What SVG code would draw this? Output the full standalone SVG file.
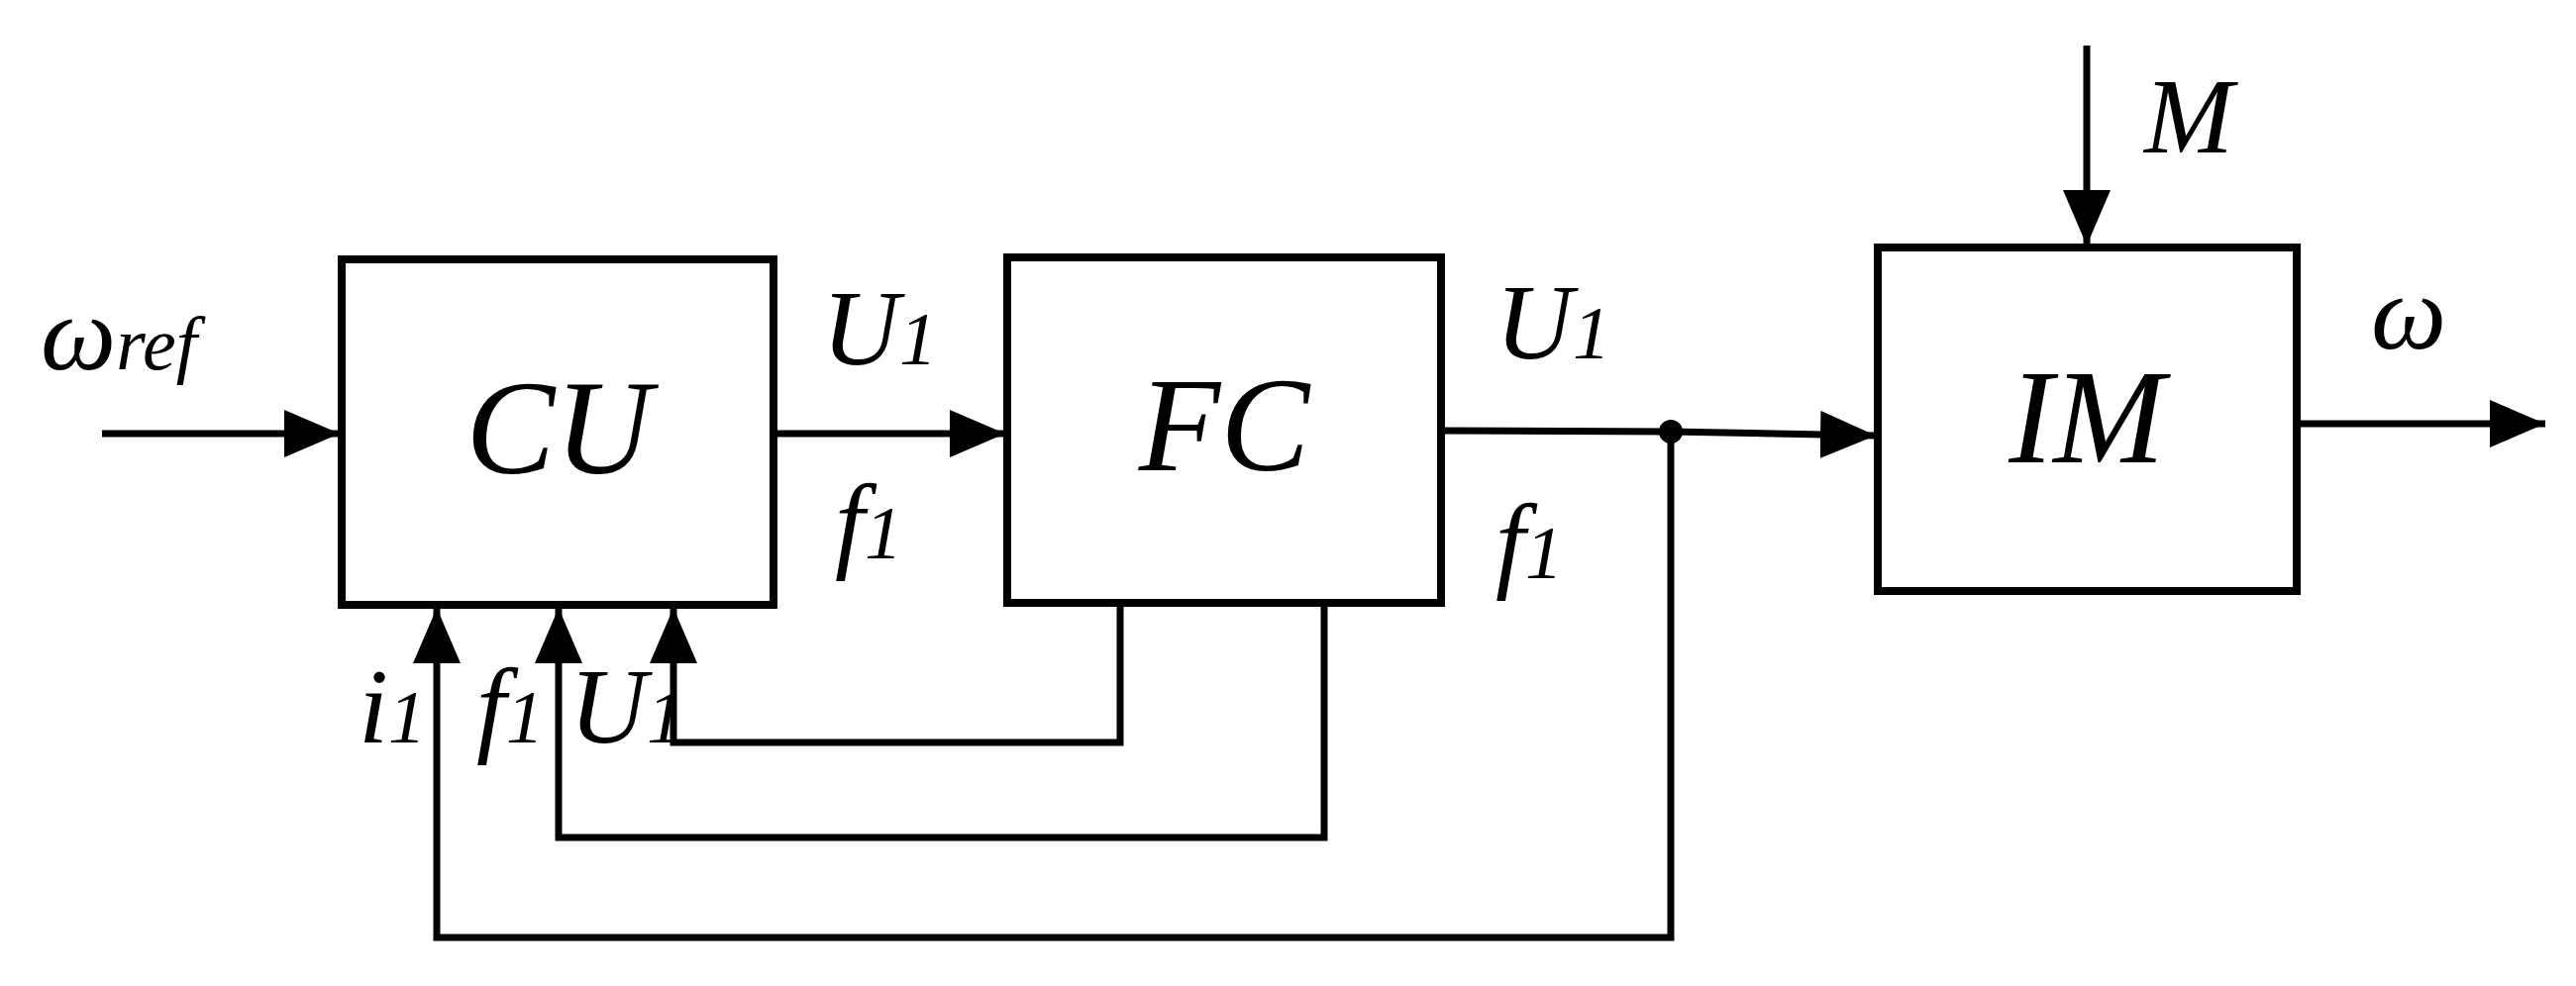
<svg xmlns="http://www.w3.org/2000/svg" width="2601" height="996" viewBox="0 0 2601 996">
<defs>
<marker id="ah" markerUnits="userSpaceOnUse" markerWidth="60" markerHeight="50" refX="56" refY="24" orient="auto"><path d="M0,0 L56,24 L0,48 Z" fill="#000"/></marker>
</defs>
<style>
.b{fill:#fff;stroke:#000;stroke-width:8}
.c{fill:none;stroke:#000;stroke-width:7}
.a{marker-end:url(#ah)}
text{font-family:"Liberation Serif","Times New Roman",serif;font-style:italic;font-weight:normal;fill:#000}
.big{font-size:135px}
.lbl{font-size:108px}
.s{font-size:76px}
</style>
<rect width="2601" height="996" fill="#fff"/>
<g id="connectors">
<line class="c a" x1="103" y1="438" x2="343" y2="438"/>
<line class="c a" x1="781" y1="438" x2="1015" y2="438"/>
<polyline class="c a" points="1455,435 1687,436 1894,440"/>
<line class="c a" x1="2107" y1="46" x2="2107" y2="248"/>
<line class="c a" x1="2319" y1="428" x2="2570" y2="428"/>
<polyline class="c a" points="1131,609 1131,750 680,750 680,614"/>
<polyline class="c a" points="1337,609 1337,846 564,846 564,614"/>
<polyline class="c a" points="1687,436 1687,947 441,947 441,614"/>
<circle cx="1687" cy="436" r="12" fill="#000"/>
</g>
<g id="cu"><rect class="b" x="345" y="262" width="436" height="349"/><text class="big" x="564" y="478" text-anchor="middle">CU</text></g>
<g id="fc"><rect class="b" x="1017" y="260" width="438" height="349"/><text class="big" x="1236" y="475" text-anchor="middle">FC</text></g>
<g id="im"><rect class="b" x="1896" y="250" width="423" height="347"/><text class="big" x="2107" y="467" text-anchor="middle">IM</text></g>
<g id="labels">
<text class="lbl" x="41" y="373">ω<tspan class="s">ref</tspan></text>
<text class="lbl" x="830" y="368">U<tspan class="s">1</tspan></text>
<text class="lbl" x="843" y="564">f<tspan class="s">1</tspan></text>
<text class="lbl" x="1510" y="362">U<tspan class="s">1</tspan></text>
<text class="lbl" x="1510" y="584">f<tspan class="s">1</tspan></text>
<text class="lbl" x="2165" y="154">M</text>
<text class="lbl" x="2394" y="352">ω</text>
<text class="lbl" x="362" y="750">i<tspan class="s">1</tspan></text>
<text class="lbl" x="481" y="750">f<tspan class="s">1</tspan></text>
<text class="lbl" x="575" y="750">U<tspan class="s">1</tspan></text>
</g>
</svg>
